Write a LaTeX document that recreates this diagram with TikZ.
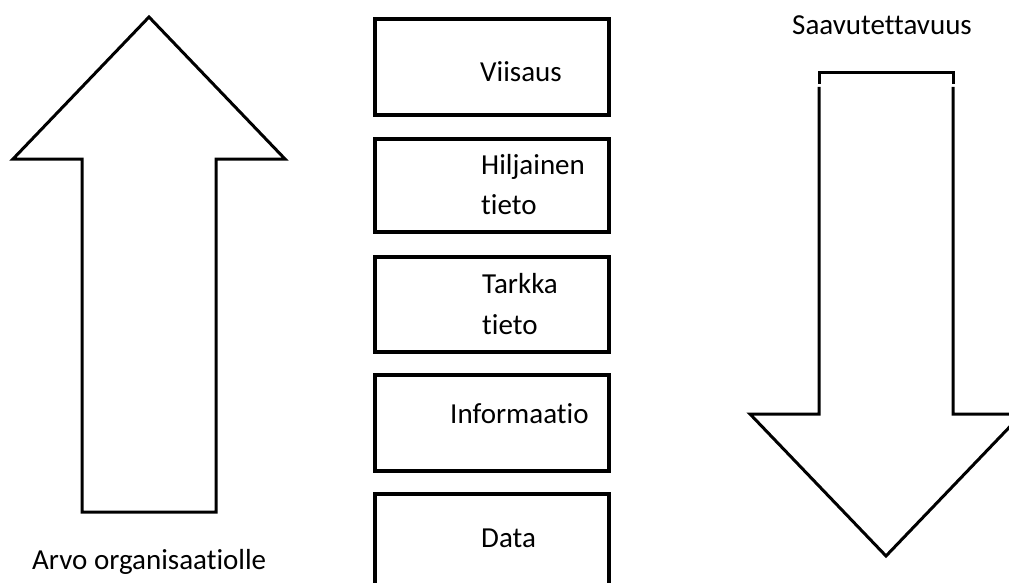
\documentclass[tikz,border=0pt]{standalone}
\usepackage{fontspec}
\setmainfont{Carlito}[Ligatures=NoCommon]
\begin{document}
\begin{tikzpicture}[x=1pt,y=-1pt,
  layer/.style={draw=black, line width=3.6pt, rectangle, inner sep=0pt,
    minimum width=234pt, anchor=north west},
  label/.style={anchor=base west, inner sep=0pt, text=black,
    font=\fontsize{29}{34}\selectfont},
  bigarrow/.style={draw=black, line width=3pt, line join=miter}]
\useasboundingbox (0,0) rectangle (1009,583);
\clip (0,0) rectangle (1009,583);

% upward arrow: value to the organisation
\draw[bigarrow] (149,17) -- (285,159) -- (216,159) -- (216,512)
  -- (82,512) -- (82,159) -- (13,159) -- cycle;
\node[label] (arvo) at (32,569) {Arvo organisaatiolle};

% downward arrow: availability
\draw[bigarrow] (819,84) -- (819,73) -- (953,73) -- (953,84);
\draw[bigarrow] (953,87) -- (953,414) -- (1022,414) -- (886,556)
  -- (750,414) -- (819,414) -- (819,87);
\node[label] (saav) at (792,35) {Saavutettavuus};

% knowledge layers
\node[layer, minimum height=96pt]  (b1) at (373,17)  {};
\node[layer, minimum height=93pt]  (b2) at (373,137) {};
\node[layer, minimum height=95pt]  (b3) at (373,255) {};
\node[layer, minimum height=96pt]  (b4) at (373,373) {};
\node[layer, minimum height=110pt] (b5) at (373,492) {};

\node[label] (t1)  at (480,82)  {Viisaus};
\node[label] (t2a) at (481,174) {Hiljainen};
\node[label] (t2b) at (481,214) {tieto};
\node[label] (t3a) at (482,293) {Tarkka};
\node[label] (t3b) at (482,334) {tieto};
\node[label] (t4)  at (450,423) {Informaatio};
\node[label] (t5)  at (481,547) {Data};
\end{tikzpicture}
\end{document}
